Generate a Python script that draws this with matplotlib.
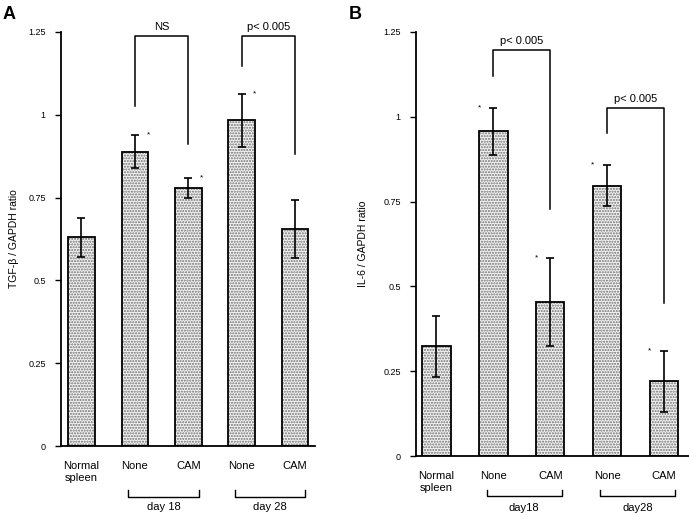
import matplotlib
matplotlib.use("Agg")
import matplotlib.pyplot as plt
import matplotlib.transforms as mtransforms

plt.rcParams['font.family'] = ['Liberation Sans', 'DejaVu Sans']

# data
groups = ["Normal\nspleen", "None", "CAM", "None", "CAM"]
tgf_mean = [0.63, 0.888, 0.778, 0.984, 0.656]
tgf_err = [0.058, 0.05, 0.03, 0.08, 0.087]
tgf_star = [False, True, True, True, False]
il6_mean = [0.324, 0.957, 0.455, 0.797, 0.221]
il6_err = [0.09, 0.07, 0.13, 0.06, 0.09]
il6_star = [False, True, True, True, True]
yticks = [0, 0.25, 0.5, 0.75, 1, 1.25]
yticklabels = ["0", "0.25", "0.5", "0.75", "1", "1.25"]

# brackets: (left bar, right bar, left leg bottom, top, right leg bottom, text)
tgf_brackets = [(1, 2, 1.027, 1.239, 0.912, "NS"),
                (3, 4, 1.148, 1.239, 0.882, "p< 0.005")]
il6_brackets = [(1, 2, 1.121, 1.198, 0.729, "p< 0.005"),
                (3, 4, 0.953, 1.027, 0.451, "p< 0.005")]

fig = plt.figure(figsize=(6.89, 5.18), dpi=100)


def panel(ax, mean, err, star, brackets, ylabel, label_x, daylabels, star_side,
          group_y, letter, letter_x):
    x = list(range(len(mean)))
    # stippled fill
    ax.bar(x, mean, width=0.5, color="#f2f2f2", edgecolor="#707070",
           hatch="......", linewidth=0, zorder=2)
    ax.bar(x, mean, width=0.5, fill=False, edgecolor="black",
           linewidth=1.3, zorder=3)
    ax.errorbar(x, mean, yerr=err, fmt="none", ecolor="black",
                elinewidth=1.2, capsize=2.6, capthick=1.2, zorder=4)
    for xi, m, e, s in zip(x, mean, err, star):
        if s:
            ax.text(xi + star_side, m + e, "*", fontsize=6, ha="center",
                    va="center", zorder=5)

    for l, r, yl, yt, yr, txt in brackets:
        ax.plot([l, l, r, r], [yl, yt, yt, yr], color="black", lw=1.1,
                clip_on=False, zorder=5)
        ax.text((l + r) / 2, yt + 0.012, txt, fontsize=8, ha="center",
                va="bottom", clip_on=False)

    ax.set_ylim(0, 1.25)
    ax.set_yticks(yticks)
    ax.set_yticklabels(yticklabels, fontsize=6.5)
    ax.set_xticks(x)
    ax.set_xticklabels(groups, fontsize=8, linespacing=1.35)
    ax.tick_params(axis="x", length=0, pad=10.5)
    ax.tick_params(axis="y", length=4, width=1, direction="out", pad=7)
    ax.set_ylabel(ylabel, fontsize=7.5)
    ax.yaxis.set_label_coords(label_x, 0.5)
    for sp in ["top", "right"]:
        ax.spines[sp].set_visible(False)
    for sp in ["left", "bottom"]:
        ax.spines[sp].set_linewidth(1.3)

    # day brackets under the axis
    trans = mtransforms.blended_transform_factory(ax.transData, fig.transFigure)
    yb, ye, yt = group_y
    for (l, r), lab in zip([(0.88, 2.2), (2.88, 4.19)], daylabels):
        ax.plot([l, l, r, r], [ye, yb, yb, ye], color="black", lw=1.0,
                transform=trans, clip_on=False)
        ax.text((l + r) / 2, yt, lab, fontsize=8, ha="center", va="center",
                transform=trans)

    fig.text(letter_x, 1 - 6 / 518, letter, fontsize=13, fontweight="bold",
             ha="left", va="top")


axA = fig.add_axes([61 / 689, 1 - 446 / 518, 254 / 689, 414 / 518])
axA.set_xlim(-0.384, 4.375)
panel(axA, tgf_mean, tgf_err, tgf_star, tgf_brackets, "TGF-β / GAPDH ratio",
      -0.165, ["day 18", "day 28"], 0.25,
      (1 - 497 / 518, 1 - 490 / 518, 1 - 507 / 518), "A", 3 / 689)

axB = fig.add_axes([416 / 689, 1 - 456 / 518, 273 / 689, 424 / 518])
axB.set_xlim(-0.36, 4.44)
panel(axB, il6_mean, il6_err, il6_star, il6_brackets, "IL-6 / GAPDH ratio",
      -0.176, ["day18", "day28"], -0.25,
      (1 - 496 / 518, 1 - 490 / 518, 1 - 508 / 518), "B", 349 / 689)

fig.savefig("out.png", dpi=100)
